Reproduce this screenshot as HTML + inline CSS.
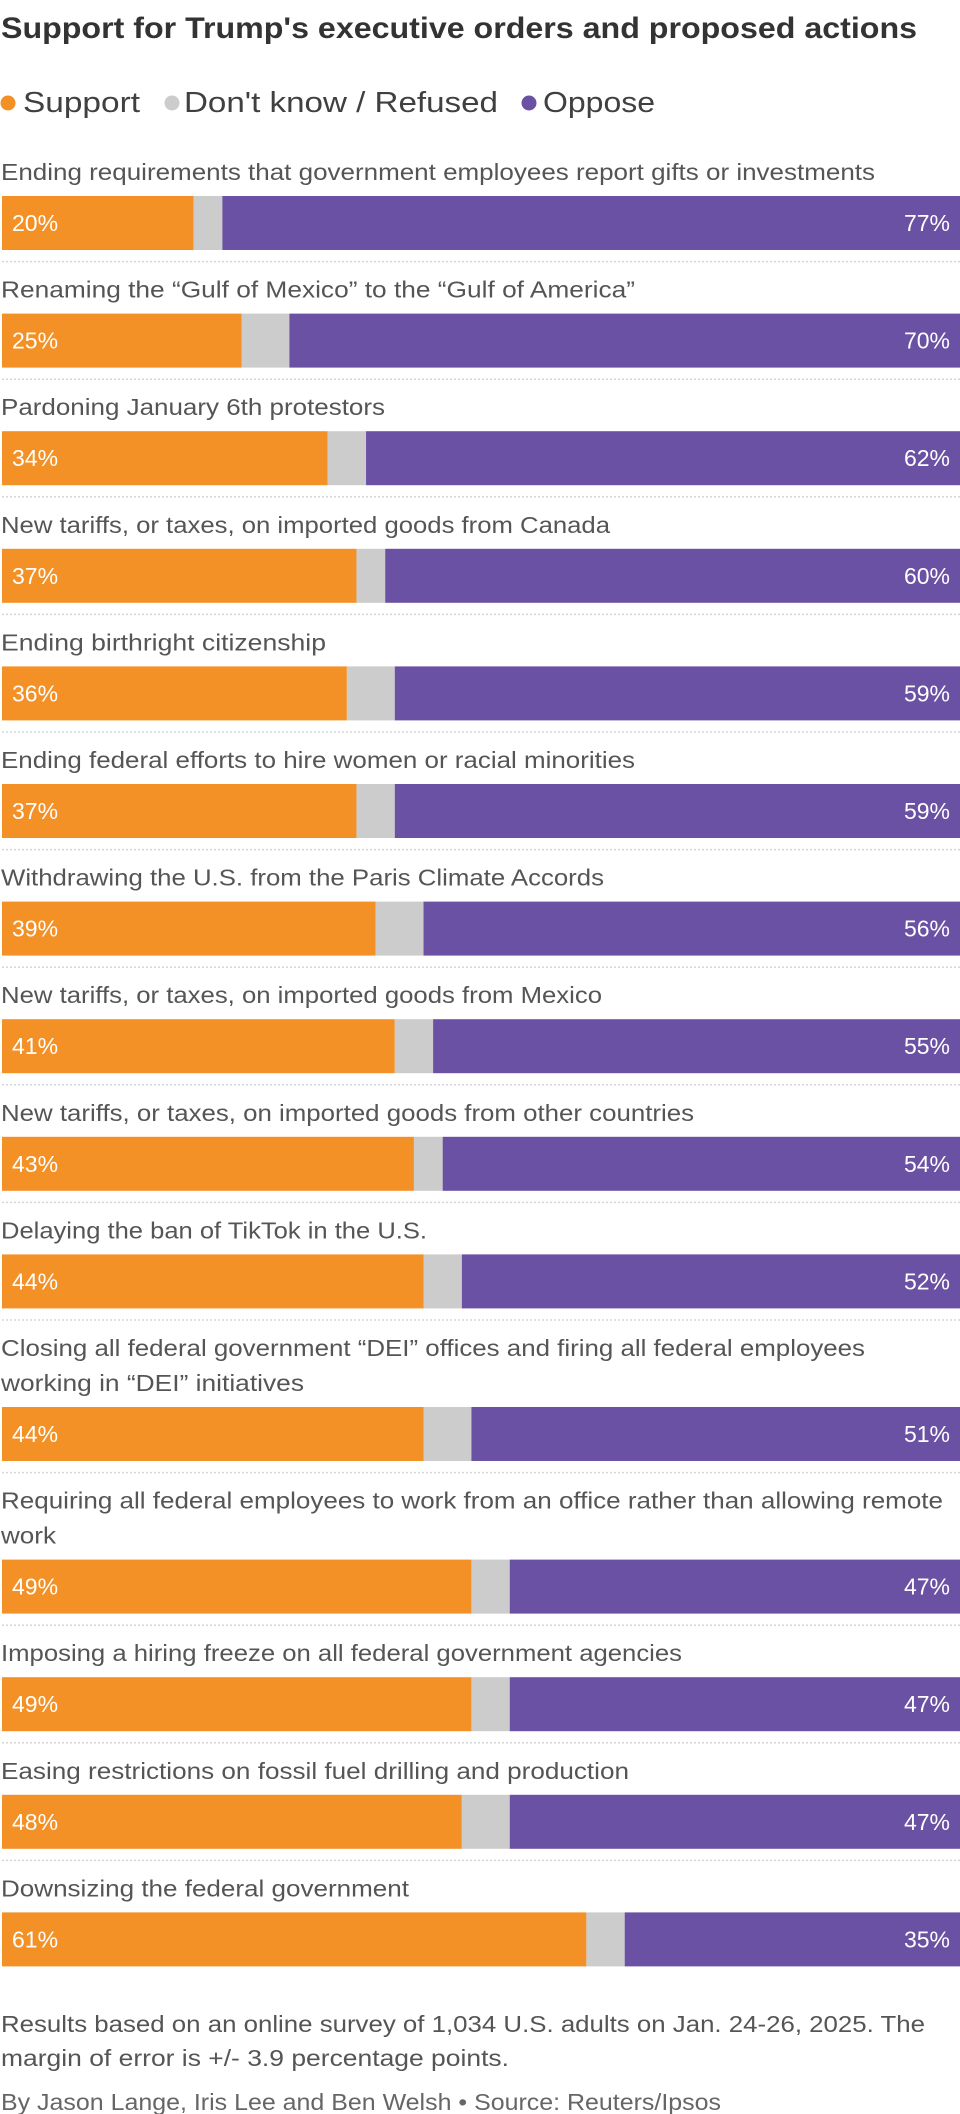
<!DOCTYPE html>
<html><head><meta charset="utf-8">
<style>
html,body{margin:0;padding:0;background:#fff;}
svg{display:block;font-family:"Liberation Sans",sans-serif;}
</style></head>
<body>
<svg id="chart" width="960" height="2114" viewBox="0 0 960 2114" xmlns="http://www.w3.org/2000/svg">
<text x="1" y="38" font-size="30" font-weight="bold" fill="#333" textLength="916" lengthAdjust="spacingAndGlyphs">Support for Trump's executive orders and proposed actions</text>
<g>
<circle cx="8" cy="103" r="7.5" fill="#f39026"/>
<text x="23" y="112" font-size="29" fill="#404040" textLength="117" lengthAdjust="spacingAndGlyphs">Support</text>
<circle cx="172" cy="103" r="7.5" fill="#cccccc"/>
<text x="184" y="112" font-size="29" fill="#404040" textLength="314" lengthAdjust="spacingAndGlyphs">Don't know / Refused</text>
<circle cx="529" cy="103" r="7.5" fill="#6a51a3"/>
<text x="543" y="112" font-size="29" fill="#404040" textLength="112" lengthAdjust="spacingAndGlyphs">Oppose</text>
</g>
<g id="rows"></g>
<text x="1" y="2032" font-size="23" fill="#555" textLength="924" lengthAdjust="spacingAndGlyphs">Results based on an online survey of 1,034 U.S. adults on Jan. 24-26, 2025. The</text>
<text x="1" y="2066" font-size="23" fill="#555" textLength="508" lengthAdjust="spacingAndGlyphs">margin of error is +/- 3.9 percentage points.</text>
<text x="1" y="2110" font-size="23" fill="#666" textLength="720" lengthAdjust="spacingAndGlyphs">By Jason Lange, Iris Lee and Ben Welsh • Source: Reuters/Ipsos</text>
</svg>
<script>
const categories = [
 ["Ending requirements that government employees report gifts or investments"],
 ["Renaming the \u201cGulf of Mexico\u201d to the \u201cGulf of America\u201d"],
 ["Pardoning January 6th protestors"],
 ["New tariffs, or taxes, on imported goods from Canada"],
 ["Ending birthright citizenship"],
 ["Ending federal efforts to hire women or racial minorities"],
 ["Withdrawing the U.S. from the Paris Climate Accords"],
 ["New tariffs, or taxes, on imported goods from Mexico"],
 ["New tariffs, or taxes, on imported goods from other countries"],
 ["Delaying the ban of TikTok in the U.S."],
 ["Closing all federal government \u201cDEI\u201d offices and firing all federal employees","working in \u201cDEI\u201d initiatives"],
 ["Requiring all federal employees to work from an office rather than allowing remote","work"],
 ["Imposing a hiring freeze on all federal government agencies"],
 ["Easing restrictions on fossil fuel drilling and production"],
 ["Downsizing the federal government"]
];
const support = [20,25,34,37,36,37,39,41,43,44,44,49,49,48,61];
const oppose  = [77,70,62,60,59,59,56,55,54,52,51,47,47,47,35];
const labelWidths = [[874],[634],[384],[609],[325],[634],[603],[601],[693],[426],[864,303],[942,55],[681],[628],[408]];

const NS = "http://www.w3.org/2000/svg";
const g = document.getElementById("rows");
const X0 = 2, W = 958, BAR_H = 54, ROW = 117.6, LINE = 35;
function xs(v){ return v * W / 100; }
function mk(tag, attrs){ const e=document.createElementNS(NS,tag); for(const k in attrs) e.setAttribute(k,attrs[k]); return e; }

let barTop = 196;
categories.forEach((lines, i) => {
  if (i > 0) {
    barTop += ROW + (lines.length - 1) * LINE;
    const sep = mk("line",{x1:2,x2:960,y1:barTop-151+ (lines.length-1)*0 - (lines.length-1)*LINE + 216 - 65 - 0, y2:0});
  }
  const row = mk("g",{});
  
  
  g.appendChild(row);
  if (i > 0) {
    const sy = barTop - 16 - (lines.length-1)*LINE - 36;
    const sep = mk("line",{x1:2,x2:960,y1:sy,y2:sy,stroke:"#d6d6d6","stroke-width":1.5,"stroke-dasharray":"2,2"});
    
    
    row.appendChild(sep);
  }
  lines.forEach((ln, j) => {
    const t = mk("text",{x:1,y:barTop-16-(lines.length-1-j)*LINE,"font-size":23,fill:"#555",textLength:labelWidths[i][j],lengthAdjust:"spacingAndGlyphs"});
    t.textContent = ln;
    
    
    row.appendChild(t);
  });
  const s = support[i], o = oppose[i], d = 100 - s - o;
  const r1 = mk("rect",{x:X0,y:barTop,width:xs(s),height:BAR_H,fill:"#f39026"});
  
  
  const r2 = mk("rect",{x:X0+xs(s),y:barTop,width:xs(d),height:BAR_H,fill:"#cccccc"});
  
  
  const r3 = mk("rect",{x:X0+xs(s+d),y:barTop,width:xs(o),height:BAR_H,fill:"#6a51a3"});
  
  
  row.appendChild(r1); row.appendChild(r2); row.appendChild(r3);
  const ts = mk("text",{x:12,y:barTop+35,"font-size":23,fill:"#fff"});
  ts.textContent = s + "%";
  
  
  const to = mk("text",{x:950,y:barTop+35,"font-size":23,fill:"#fff","text-anchor":"end"});
  to.textContent = o + "%";
  
  
  row.appendChild(ts); row.appendChild(to);
});
</script>
</body></html>
